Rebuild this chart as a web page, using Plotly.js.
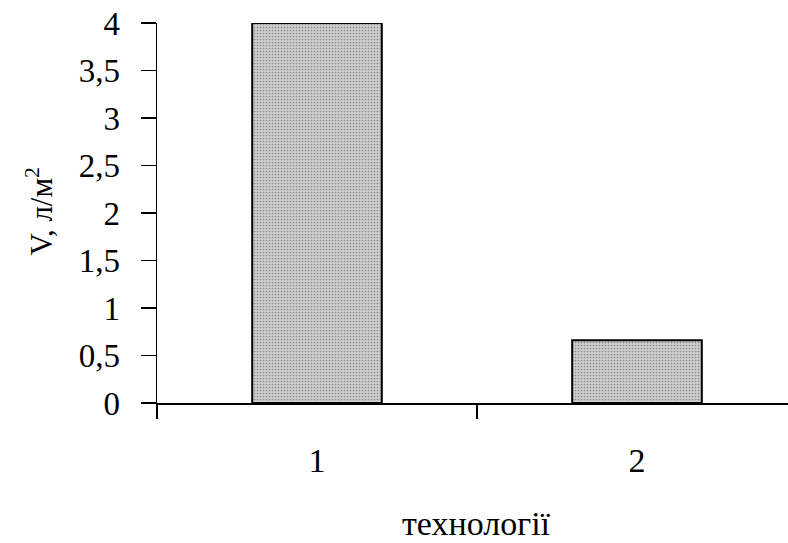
<!DOCTYPE html>
<html><head><meta charset="utf-8">
<script src="https://cdn.plot.ly/plotly-3.0.1.min.js"></script>
<style>html,body{margin:0;padding:0;background:#fff;}</style>
</head><body>
<div id="chart" style="width:788px;height:543px;"></div>
<script>
const categories = ["1", "2"];
const categoryPositions = [1, 2];
const values = [4.0, 0.66];
const yTickValues = [0, 0.5, 1, 1.5, 2, 2.5, 3, 3.5, 4];
const yTickLabels = ["0", "0,5", "1", "1,5", "2", "2,5", "3", "3,5", "4"];
const xTitle = "технології";
const yTitle = "V, л/м<sup>2</sup>";

const font = "Liberation Serif, Times New Roman, serif";
const xr = [0.5, 0.5 + 631/320];

const trace = {
  type: "bar",
  x: categoryPositions,
  y: values,
  width: 0.405,
  marker: {
    color: "#c2c2c2",
    line: {color: "#000", width: 2},
    pattern: {shape: ".", fgcolor: "#8a8a8a", bgcolor: "#cfcfcf", size: 3, solidity: 0.25}
  },
  hoverinfo: "skip"
};
const labelTrace = {
  type: "scatter", x: categoryPositions, y: [0, 0], xaxis: "x2", yaxis: "y",
  mode: "markers", marker: {opacity: 0}, hoverinfo: "skip", showlegend: false
};

const layout = {
  width: 788, height: 543,
  margin: {l: 157, r: 0, t: 23, b: 140},
  paper_bgcolor: "#fff", plot_bgcolor: "#fff",
  showlegend: false,
  font: {family: font, color: "#000", size: 33},
  xaxis: {
    range: xr, showgrid: false, zeroline: false,
    showline: true, linecolor: "#000", linewidth: 1.5,
    tickvals: [0.5, 1.5], ticks: "outside", ticklen: 14, tickwidth: 1.5, tickcolor: "#000",
    showticklabels: false
  },
  xaxis2: {
    overlaying: "x", anchor: "y", side: "bottom", range: xr,
    showgrid: false, zeroline: false, showline: false,
    tickvals: categoryPositions, ticktext: categories, ticks: "",
    ticklabelstandoff: 34, tickfont: {family: font, size: 34, color: "#000"}
  },
  yaxis: {
    range: [0, 4], showgrid: false, zeroline: false,
    showline: true, linecolor: "#000", linewidth: 1.5,
    tickvals: yTickValues, ticktext: yTickLabels,
    ticks: "outside", ticklen: 15, tickwidth: 1.5, tickcolor: "#000",
    ticklabelstandoff: 14,
    tickfont: {family: font, size: 33, color: "#000"}
  },
  annotations: [
    {text: xTitle, xref: "paper", yref: "paper", x: 0.506, y: -0.318,
     xanchor: "center", yanchor: "middle", showarrow: false,
     font: {family: font, size: 34, color: "#000"}},
    {text: yTitle, xref: "paper", yref: "paper", x: -0.186, y: 0.503,
     xanchor: "center", yanchor: "middle", showarrow: false, textangle: -90,
     font: {family: font, size: 31, color: "#000"}}
  ]
};

Plotly.newPlot("chart", [trace, labelTrace], layout, {displayModeBar: false, staticPlot: true});
</script>
</body></html>
